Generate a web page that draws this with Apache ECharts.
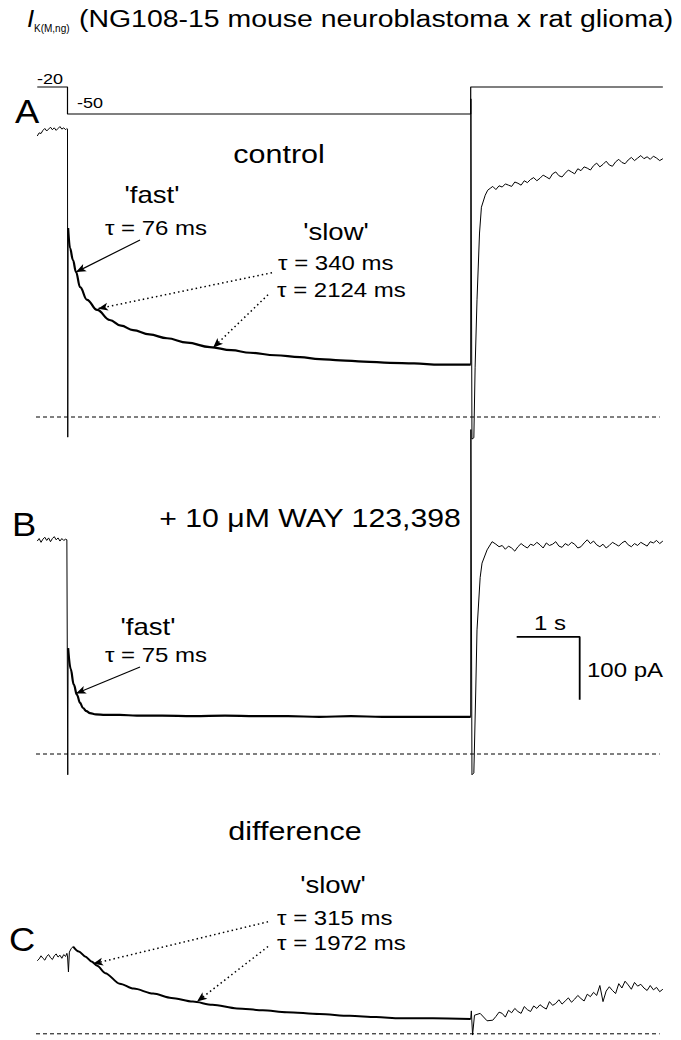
<!DOCTYPE html>
<html><head><meta charset="utf-8">
<script src="https://cdn.jsdelivr.net/npm/echarts@6.0.0/dist/echarts.min.js"></script>
<style>html,body{margin:0;padding:0;background:#fff}#c{width:681px;height:1040px}</style>
</head><body><div id="c"></div>
<script>
// ---------- DATA (time in s, current in pA, voltage in mV) ----------
const protocolT = [-0.48, 0, 0, 6.4, 6.4, 9.45];
const protocolV = [-20, -20, -50, -50, -20, -20];

const zeroLineT = [-0.5, 9.4];
const zeroLineI = [0, 0];

const holdT = [-0.48,-0.45,-0.42,-0.39,-0.36,-0.33,-0.30,-0.27,-0.24,-0.21,-0.18,-0.15,-0.12,-0.09,-0.06,-0.03,-0.01];
const recT = [6.80,6.85,6.90,6.95,7.00,7.05,7.10,7.15,7.20,7.25,7.30,7.35,7.40,7.45,7.50,7.55,7.60,7.65,7.70,7.75,7.80,7.85,7.90,7.95,8.00,8.05,8.10,8.15,8.20,8.25,8.30,8.35,8.40,8.45,8.50,8.55,8.60,8.65,8.70,8.75,8.80,8.85,8.90,8.95,9.00,9.05,9.10,9.15,9.20,9.25,9.30,9.35,9.40,9.45];

// Panel A: control
const holdA = [446,451,450,455,458,454,457,460,456,459,455,458,461,457,459,456,458];
const onA_T = [0, 0.004, 0.01];
const onA_I = [457, -32, 300];
const decA_T = [0.01,0.04,0.087,0.135,0.2,0.31,0.47,0.67,0.85,1.04,1.3,1.58,1.9,2.26,2.6,2.9,3.3,3.69,4.0,4.33,4.7,5.12,5.5,5.91,6.2,6.4];
const decA_I = [300,268,249,230,206,186,170,154,145,138,131,125,118,111,106,102,98,95,92,90,88,86,85,83,83,83];
const offA_T = [6.40,6.403,6.42,6.45,6.47,6.50,6.54,6.57,6.63,6.67,6.71,6.75];
const offA_I = [83,505,-35,-33,79,186,292,333,352,360,363,366];
const recA = [361,367,365,370,368,366,373,371,368,375,372,377,380,375,379,384,381,378,386,389,383,381,387,392,389,386,394,391,397,395,392,399,403,397,401,406,400,398,405,409,404,402,408,412,407,411,415,410,413,409,414,411,407,410];

// Panel B: + WAY 123,398
const holdB = [338,342,336,341,344,339,343,337,342,345,340,343,338,342,339,341,340];
const onB_T = [0, 0.004, 0.01];
const onB_I = [340, -33, 168];
const decB_T = [0.01,0.05,0.1,0.15,0.2,0.246,0.3,0.357,0.45,0.6,0.83,1.1,1.5,2.0,2.5,3.0,3.5,4.0,4.5,5.0,5.5,6.0,6.4];
const decB_I = [168,135,110,94,81,73,68,65,63,62,62,61,61,60,61,60,60,59,60,59,59,59,59];
const offB_T = [6.40,6.403,6.42,6.45,6.48,6.50,6.55,6.58,6.66,6.74];
const offB_I = [59,515,-33,-30,100,197,280,303,324,337];
const recB = [333,329,331,325,330,327,322,329,334,330,327,333,331,336,332,327,335,331,333,337,330,328,334,331,336,333,327,329,335,340,334,338,332,329,333,327,331,336,333,330,335,338,332,329,334,331,336,333,330,337,335,339,334,338];

// Panel C: difference
const holdC = [118,121,126,122,119,125,128,123,120,126,129,124,127,122,128,125,130];
const onC_T = [0, 0.015, 0.03, 0.06, 0.09];
const onC_I = [126, 100, 132, 138, 141];
const decC_T = [0.09,0.18,0.28,0.38,0.47,0.6,0.83,1.05,1.36,1.65,1.99,2.3,2.69,3.1,3.48,4.0,4.48,4.9,5.28,5.8,6.4];
const decC_I = [141,133,125,117,110,98,81,73,65,58,52,47,41,38,35,32,29,27,25,25,24];
const offC_T = [6.40,6.41,6.43,6.46,6.55,6.66,6.75];
const offC_I = [24,37,-2,30,33,21,22];
const recC = [28,35,33,27,38,34,41,36,33,44,39,36,45,41,47,43,40,52,46,49,55,48,53,58,51,56,62,57,53,64,60,67,62,78,52,69,76,70,65,81,74,85,79,72,83,77,80,74,70,78,71,75,68,72];

// Scale bar (1 s, 100 pA) drawn in panel B units
const scaleBarT = [7.13, 8.13, 8.13];
const scaleBarI = [186, 186, 86];

// Annotation arrows: [fromT, fromI, toT, toI]
const arrowsA = { fast: [1.151, 281, 0.135, 230], slow1: [3.246, 229, 0.484, 172], slow2: [3.183, 194, 2.31, 110] };
const arrowsB = { fast: [1.151, 138, 0.135, 96] };
const arrowsC = { slow1: [3.183, 181, 0.405, 113], slow2: [3.183, 141, 2.056, 52] };

// ---------- CHART ----------
const pairs = (t, v) => t.map((x, i) => [x, v[i]]);
const FONT = '"Liberation Sans", Arial, Helvetica, sans-serif';
const BLACK = '#000';

const grids = [
  { left: 36, width: 630, top: 78, height: 45 },
  { left: 36, width: 630, top: 95.7, height: 352.8 },
  { left: 36, width: 630, top: 426.4, height: 359.1 },
  { left: 36, width: 630, top: 910, height: 132.3 }
];
const yRanges = [[-60, -10], [-50, 510], [-50, 520], [-10, 200]];

function lineSeries(gi, data, width, extra) {
  return Object.assign({
    type: 'line', xAxisIndex: gi, yAxisIndex: gi, data: data,
    symbol: 'none', silent: true, animation: false,
    lineStyle: { color: BLACK, width: width }
  }, extra || {});
}
function arrowPair(a, dotted) {
  return [
    { coord: [a[0], a[1]], lineStyle: { color: BLACK, width: dotted ? 1.5 : 1.2, type: dotted ? [1.5, 3] : 'solid' } },
    { coord: [a[2], a[3]] }
  ];
}
function markArrows(list) {
  return {
    silent: true, animation: false, symbol: ['none', 'arrow'], symbolSize: [6, 10],
    label: { show: false }, emphasis: { disabled: true },
    lineStyle: { color: BLACK },
    data: list
  };
}

const series = [
  lineSeries(0, pairs(protocolT, protocolV), 1.2),
  // A
  lineSeries(1, pairs(zeroLineT, zeroLineI), 1, { lineStyle: { color: BLACK, width: 1, type: [4, 3] } }),
  lineSeries(1, pairs(holdT.concat(onA_T), holdA.concat(onA_I)), 1),
  lineSeries(1, pairs(decA_T, decA_I), 2.2, { smooth: 0.4, smoothMonotone: 'x',
    markLine: markArrows([arrowPair(arrowsA.fast, false), arrowPair(arrowsA.slow1, true), arrowPair(arrowsA.slow2, true)]) }),
  lineSeries(1, pairs(offA_T.concat(recT), offA_I.concat(recA)), 1),
  // B
  lineSeries(2, pairs(zeroLineT, zeroLineI), 1, { lineStyle: { color: BLACK, width: 1, type: [4, 3] } }),
  lineSeries(2, pairs(holdT.concat(onB_T), holdB.concat(onB_I)), 1),
  lineSeries(2, pairs(decB_T, decB_I), 2.2, { smooth: 0.4, smoothMonotone: 'x',
    markLine: markArrows([arrowPair(arrowsB.fast, false)]) }),
  lineSeries(2, pairs(offB_T.concat(recT), offB_I.concat(recB)), 1),
  lineSeries(2, pairs(scaleBarT, scaleBarI), 1.8),
  // C
  lineSeries(3, pairs(zeroLineT, zeroLineI), 1, { lineStyle: { color: BLACK, width: 1, type: [4, 3] } }),
  lineSeries(3, pairs(holdT.concat(onC_T), holdC.concat(onC_I)), 1),
  lineSeries(3, pairs(decC_T, decC_I), 2, { smooth: 0.3, smoothMonotone: 'x',
    markLine: markArrows([arrowPair(arrowsC.slow1, true), arrowPair(arrowsC.slow2, true)]) }),
  lineSeries(3, pairs(offC_T.concat(recT), offC_I.concat(recC)), 1)
];

function txt(x, y, text, size, align, opts) {
  opts = opts || {};
  return {
    type: 'text', x: x, y: y, silent: true,
    scaleX: opts.sx || 1.2, scaleY: 1,
    style: {
      text: text,
      font: (opts.italic ? 'italic ' : '') + size + 'px ' + FONT,
      fill: BLACK,
      align: align, textAlign: align,
      verticalAlign: 'middle', textVerticalAlign: 'middle'
    }
  };
}

const texts = [
  txt(27, 18.8, 'I', 23.5, 'left', { italic: true, sx: 1.1 }),
  txt(34, 28, 'K(M,ng)', 10, 'left', { sx: 1.0 }),
  txt(79, 18.8, '(NG108-15 mouse neuroblastoma x rat glioma)', 23.5, 'left', { sx: 1.21 }),
  txt(50, 79, '-20', 15, 'center'),
  txt(77, 103, '-50', 15, 'left'),
  txt(27, 112, 'A', 33, 'center', { sx: 1.1 }),
  txt(279, 154, 'control', 25, 'center', { sx: 1.22 }),
  txt(152, 195, "'fast'", 23, 'center'),
  txt(156, 228, '\u03c4 = 76 ms', 20, 'center'),
  txt(336, 232, "'slow'", 23, 'center'),
  txt(278, 263, '\u03c4 = 340 ms', 20, 'left'),
  txt(277, 290, '\u03c4 = 2124 ms', 20, 'left'),
  txt(24, 525, 'B', 33, 'center', { sx: 1.1 }),
  txt(310, 518, '+ 10 \u03bcM WAY 123,398', 25, 'center', { sx: 1.21 }),
  txt(148, 627, "'fast'", 23, 'center'),
  txt(156, 655, '\u03c4 = 75 ms', 20, 'center'),
  txt(550, 623, '1 s', 20, 'center'),
  txt(587, 670, '100 pA', 20, 'left'),
  txt(22, 940, 'C', 33, 'center', { sx: 1.1 }),
  txt(295, 831, 'difference', 25, 'center', { sx: 1.22 }),
  txt(333, 885, "'slow'", 23, 'center'),
  txt(277, 918, '\u03c4 = 315 ms', 20, 'left'),
  txt(277, 943, '\u03c4 = 1972 ms', 20, 'left')
];

const option = {
  backgroundColor: '#fff',
  animation: false,
  grid: grids,
  xAxis: grids.map((g, i) => ({ type: 'value', gridIndex: i, min: -0.5, max: 9.5, show: false })),
  yAxis: grids.map((g, i) => ({ type: 'value', gridIndex: i, min: yRanges[i][0], max: yRanges[i][1], show: false })),
  series: series,
  graphic: { elements: texts }
};

const chart = echarts.init(document.getElementById('c'), null, { renderer: 'svg' });
chart.setOption(option);
</script></body></html>
